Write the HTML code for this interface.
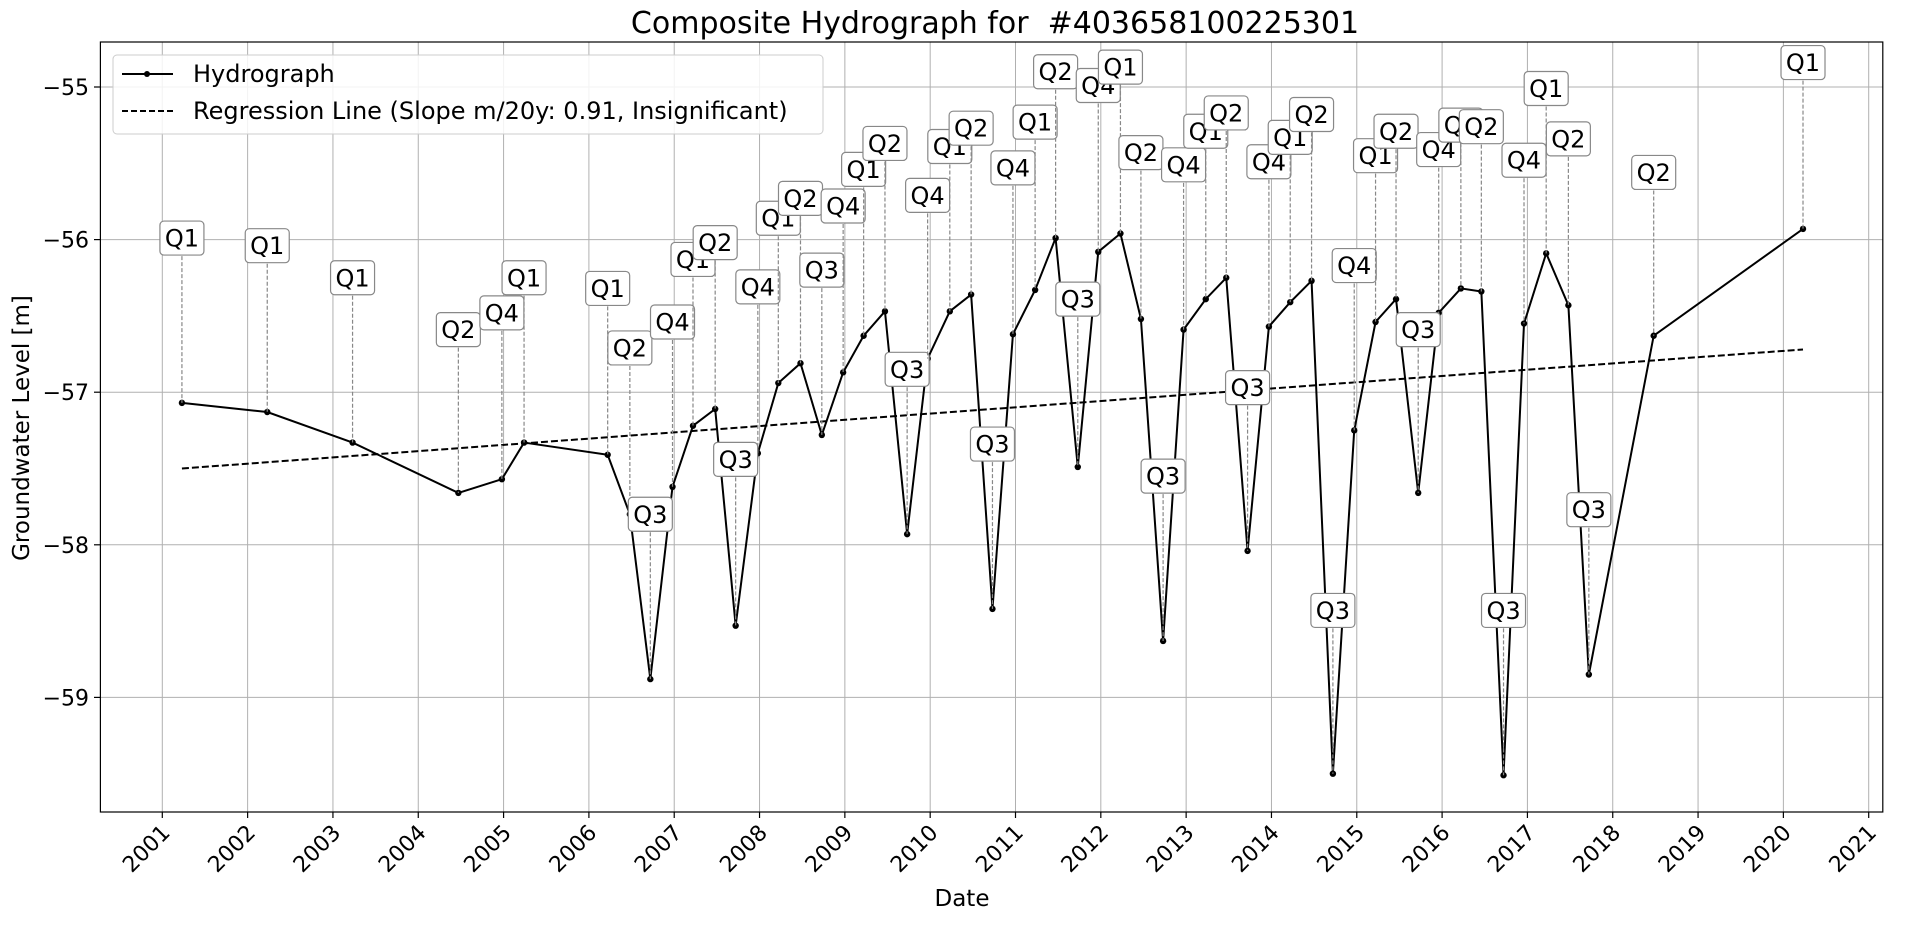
<!DOCTYPE html>
<html><head><meta charset="utf-8"><style>
body{margin:0;background:#fff}
svg text{font-family:"DejaVu Sans","Liberation Sans",sans-serif}
</style></head><body>
<svg id="chart" width="1907" height="920" viewBox="0 0 1907 920" xmlns="http://www.w3.org/2000/svg">
<text x="995" y="33" font-size="30" text-anchor="middle">Composite Hydrograph for&#160; #403658100225301</text>
<g id="grid"></g>
<g id="reg"></g>
<g id="series"></g>
<g id="labels"></g>
<rect x="100.4" y="42" width="1782.4" height="770" fill="none" stroke="#000" stroke-width="1.2"/>
<g id="axes"></g>
<text transform="translate(29,428) rotate(-90)" font-size="23" text-anchor="middle">Groundwater Level [m]</text>
<text x="962" y="906" font-size="23" text-anchor="middle">Date</text>
<g>
<rect x="113" y="55" width="710" height="79" rx="4" fill="#fff" fill-opacity="0.85" stroke="#ccc"/>
<line x1="122" y1="74" x2="173" y2="74" stroke="#000" stroke-width="2"/>
<circle cx="147" cy="74" r="3" fill="#000"/>
<text x="193" y="82" font-size="24">Hydrograph</text>
<line x1="122" y1="111" x2="173" y2="111" stroke="#000" stroke-width="2" stroke-dasharray="6,3"/>
<text x="193" y="119" font-size="24">Regression Line (Slope m/20y: 0.91, Insignificant)</text>
</g>
</svg>
<script>
const dates=[2001.23,2002.23,2003.23,2004.47,2004.98,2005.24,2006.22,2006.48,2006.72,2006.98,2007.22,2007.48,2007.72,2007.98,2008.22,2008.48,2008.73,2008.98,2009.22,2009.47,2009.73,2009.97,2010.23,2010.48,2010.73,2010.97,2011.23,2011.47,2011.73,2011.97,2012.23,2012.47,2012.73,2012.97,2013.23,2013.47,2013.72,2013.97,2014.22,2014.47,2014.72,2014.97,2015.22,2015.46,2015.72,2015.96,2016.22,2016.46,2016.72,2016.96,2017.22,2017.48,2017.72,2018.48,2020.23];
const levels=[-57.07,-57.13,-57.33,-57.66,-57.57,-57.33,-57.41,-57.80,-58.88,-57.62,-57.22,-57.11,-58.53,-57.40,-56.94,-56.81,-57.28,-56.87,-56.63,-56.47,-57.93,-56.78,-56.47,-56.36,-58.42,-56.62,-56.33,-55.99,-57.49,-56.08,-55.96,-56.52,-58.63,-56.59,-56.39,-56.25,-58.04,-56.57,-56.41,-56.27,-59.50,-57.25,-56.54,-56.39,-57.66,-56.48,-56.32,-56.34,-59.51,-56.55,-56.09,-56.43,-58.85,-56.63,-55.93];
const quarters=["Q1","Q1","Q1","Q2","Q4","Q1","Q1","Q2","Q3","Q4","Q1","Q2","Q3","Q4","Q1","Q2","Q3","Q4","Q1","Q2","Q3","Q4","Q1","Q2","Q3","Q4","Q1","Q2","Q3","Q4","Q1","Q2","Q3","Q4","Q1","Q2","Q3","Q4","Q1","Q2","Q3","Q4","Q1","Q2","Q3","Q4","Q1","Q2","Q3","Q4","Q1","Q2","Q3","Q2","Q1"];
const labelLevels=[-55.99,-56.04,-56.25,-56.59,-56.48,-56.25,-56.32,-56.71,-57.80,-56.54,-56.13,-56.02,-57.44,-56.31,-55.86,-55.73,-56.20,-55.78,-55.54,-55.37,-56.85,-55.71,-55.39,-55.27,-57.34,-55.53,-55.23,-54.90,-56.39,-54.99,-54.87,-55.43,-57.55,-55.51,-55.29,-55.17,-56.97,-55.49,-55.33,-55.18,-58.43,-56.17,-55.45,-55.29,-56.59,-55.41,-55.25,-55.26,-58.43,-55.48,-55.01,-55.34,-57.77,-55.56,-54.84];
const regStart=[2001.23,-57.50];
const regEnd=[2020.23,-56.72];
const yTicks=[-55,-56,-57,-58,-59];
const xTicks=[2001,2002,2003,2004,2005,2006,2007,2008,2009,2010,2011,2012,2013,2014,2015,2016,2017,2018,2019,2020,2021];

const NS="http://www.w3.org/2000/svg";
const X=d=>162.3+(d-2001)*85.32;
const Y=v=>87+(-55-v)*152.6;
function mk(tag,attrs,parent,txt){const e=document.createElementNS(NS,tag);for(const k in attrs)e.setAttribute(k,attrs[k]);if(txt!==undefined)e.textContent=txt;parent.appendChild(e);return e;}
const grid=document.getElementById('grid'),axes=document.getElementById('axes');
xTicks.forEach(t=>{
 const g=mk('line',{x1:X(t),x2:X(t),y1:42,y2:812,stroke:'#b0b0b0','stroke-width':1},grid);
 
 
 mk('line',{x1:X(t),x2:X(t),y1:812,y2:818,stroke:'#000','stroke-width':1.2},axes);
 const tx=mk('text',{x:X(t)+9,y:834,'font-size':22,'text-anchor':'end',transform:`rotate(-45 ${X(t)+9} 834)`},axes,String(t));
 
 
});
yTicks.forEach(t=>{
 const g=mk('line',{x1:100.4,x2:1882.8,y1:Y(t),y2:Y(t),stroke:'#b0b0b0','stroke-width':1},grid);
 
 
 mk('line',{x1:94,x2:100.4,y1:Y(t),y2:Y(t),stroke:'#000','stroke-width':1.2},axes);
 const tx=mk('text',{x:89,y:Y(t)+8,'font-size':22,'text-anchor':'end'},axes,'\u2212'+Math.abs(t));
 
 
});
const rl=mk('line',{x1:X(regStart[0]),y1:Y(regStart[1]),x2:X(regEnd[0]),y2:Y(regEnd[1]),stroke:'#000','stroke-width':2,'stroke-dasharray':'7,3'},document.getElementById('reg'));


const ser=document.getElementById('series'),lab=document.getElementById('labels');
const p=mk('polyline',{points:dates.map((d,i)=>X(d)+','+Y(levels[i])).join(' '),fill:'none',stroke:'#000','stroke-width':2},ser);


dates.forEach((d,i)=>{
 const c=mk('circle',{cx:X(d),cy:Y(levels[i]),r:3.2,fill:'#000'},ser);
 
 
});
dates.forEach((d,i)=>{
 const g=mk('g',{},lab);
 
 
 const x=X(d),ly=Y(labelLevels[i]),py=Y(levels[i]);
 mk('line',{x1:x,y1:ly,x2:x,y2:py,stroke:'#888','stroke-width':1.2,'stroke-dasharray':'4,2'},g);
 mk('rect',{x:x-22,y:ly-17,width:44,height:34,rx:4,fill:'#fff',stroke:'#888','stroke-width':1.2},g);
 mk('text',{x:x,y:ly+8.5,'font-size':24,'text-anchor':'middle'},g,quarters[i]);
});
</script>
</body></html>
